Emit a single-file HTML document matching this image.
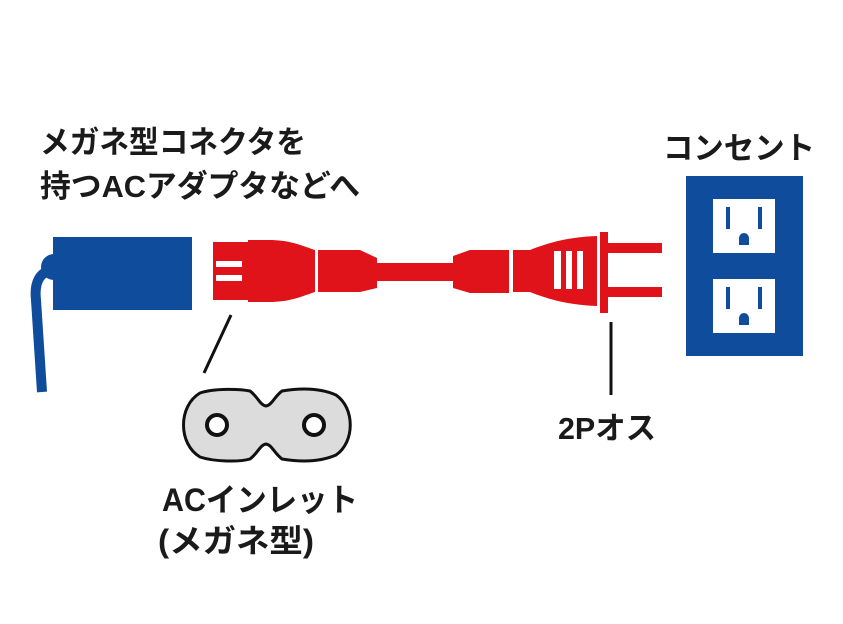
<!DOCTYPE html>
<html><head><meta charset="utf-8"><style>
html,body{margin:0;padding:0;background:#fff;}
svg{display:block;}
text{font-family:"Liberation Sans","Noto Sans CJK JP",sans-serif;font-weight:bold;fill:#1a1a1a;}
</style></head><body>
<svg width="843" height="624" viewBox="0 0 843 624" xmlns="http://www.w3.org/2000/svg">
<rect width="843" height="624" fill="#fff"/>
<text x="40" y="153" font-size="31" textLength="266" lengthAdjust="spacingAndGlyphs">メガネ型コネクタを</text>
<text x="40" y="197" font-size="31" textLength="320" lengthAdjust="spacingAndGlyphs">持つACアダプタなどへ</text>
<text x="663" y="159" font-size="31" textLength="152" lengthAdjust="spacingAndGlyphs">コンセント</text>
<text x="558" y="439" font-size="31" textLength="98" lengthAdjust="spacingAndGlyphs">2Pオス</text>
<text x="162" y="511" font-size="32" textLength="196" lengthAdjust="spacingAndGlyphs">ACインレット</text>
<text x="158" y="552" font-size="32" textLength="156" lengthAdjust="spacingAndGlyphs">(メガネ型)</text>
<path d="M52 270 C40 272 34 282 36 300 L42 392" stroke="#0f4c9c" stroke-width="10" fill="none"/>
<circle cx="54" cy="267" r="13" fill="#0f4c9c"/>
<rect x="53" y="237" width="139" height="73" fill="#0f4c9c"/>
<rect x="213" y="242" width="36" height="58" fill="#e0121a"/>
<rect x="216" y="261" width="26" height="6" fill="#fff"/>
<rect x="216" y="275" width="26" height="6" fill="#fff"/>
<path d="M248 240 L268 240 C290 240 300 245 315 250 L315 292 C300 297 290 302 268 302 L248 302 Z" fill="#e0121a"/>
<path d="M318 250 L360 250 L377 258 L377 288 L360 292 L318 292 Z" fill="#e0121a"/>
<rect x="376" y="263" width="80" height="18" fill="#e0121a"/>
<path d="M453 256 L470 250 L509 250 L509 293 L470 293 L453 288 Z" fill="#e0121a"/>
<path d="M513 250 L530 250 C550 242 570 237 597 236 L597 306 C570 305 550 300 530 292 L513 292 Z" fill="#e0121a"/>
<rect x="554" y="251" width="7" height="38" fill="#fff"/>
<rect x="566" y="251" width="6" height="38" fill="#fff"/>
<rect x="577" y="251" width="6" height="38" fill="#fff"/>
<rect x="600" y="232" width="8" height="81" fill="#e0121a"/>
<rect x="608" y="243" width="54" height="10" fill="#e0121a"/>
<rect x="608" y="287" width="54" height="10" fill="#e0121a"/>
<line x1="231" y1="315" x2="204" y2="373" stroke="#111" stroke-width="3"/>
<line x1="611" y1="322" x2="611" y2="395" stroke="#111" stroke-width="3"/>
<path d="M200 393 C215 388 240 389 250 391 C258 397 260 405 266 406 C272 405 274 397 282 391 C300 388 320 388 336 395 C355 408 355 442 336 455 C320 462 300 462 282 459 C274 453 272 445 266 444 C260 445 258 453 250 459 C240 462 215 462 200 457 C178 444 178 406 200 393 Z" fill="#dcdcdc" stroke="#111" stroke-width="3"/>
<circle cx="217" cy="425" r="10" fill="#fff" stroke="#111" stroke-width="4"/>
<circle cx="314" cy="425" r="10" fill="#fff" stroke="#111" stroke-width="4"/>
<rect x="686" y="176" width="117" height="180" fill="#0f4c9c"/>
<g>
<rect x="713" y="199" width="62" height="54" fill="#fff"/>
<rect x="726" y="207" width="4" height="22" fill="#0f4c9c"/>
<rect x="758" y="207" width="4" height="22" fill="#0f4c9c"/>
<path d="M739 245 L739 238 A5 5 0 0 1 749 238 L749 245 Z" fill="#0f4c9c"/>
</g>
<g transform="translate(0,80)">
<rect x="713" y="199" width="62" height="54" fill="#fff"/>
<rect x="726" y="207" width="4" height="22" fill="#0f4c9c"/>
<rect x="758" y="207" width="4" height="22" fill="#0f4c9c"/>
<path d="M739 245 L739 238 A5 5 0 0 1 749 238 L749 245 Z" fill="#0f4c9c"/>
</g>
</svg>
</body></html>
